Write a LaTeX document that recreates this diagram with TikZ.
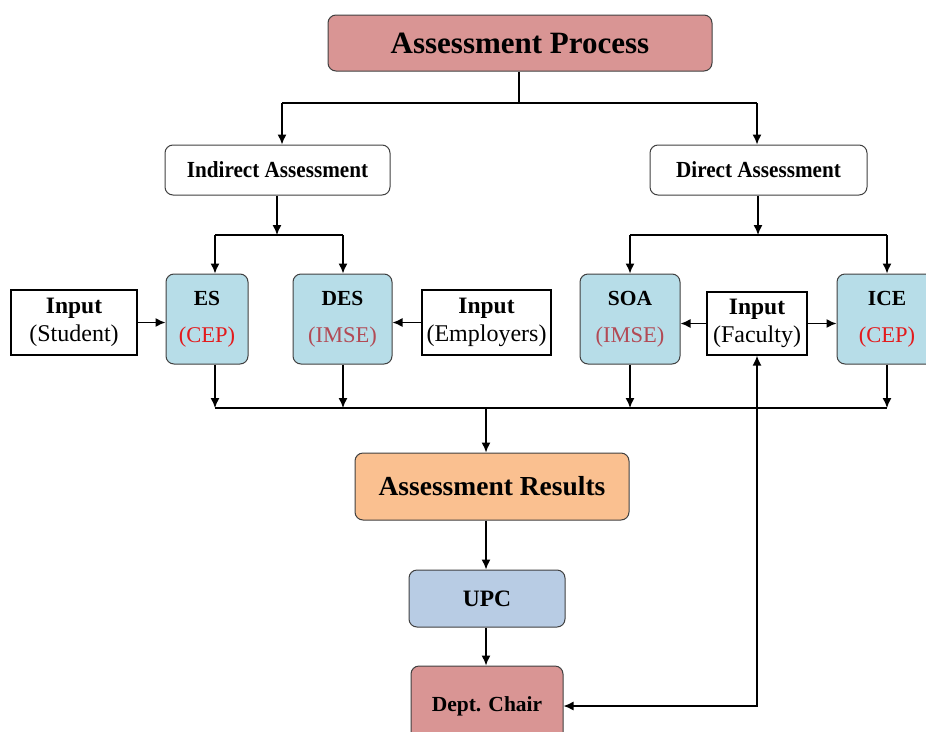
\documentclass[tikz,border=0pt]{standalone}
\usepackage{fontspec}
\setmainfont{Liberation Serif}
\usetikzlibrary{arrows.meta}
\definecolor{pinkred}{HTML}{D99594}
\definecolor{lblue}{HTML}{B7DDE8}
\definecolor{orangebox}{HTML}{FAC090}
\definecolor{upcblue}{HTML}{B8CCE4}
\definecolor{cepred}{HTML}{E31A1C}
\definecolor{imsered}{HTML}{B24A55}
\definecolor{edge}{HTML}{404040}
\newcommand{\blk}[3]{\fontsize{21.5}{26}\selectfont\bfseries #1\\[20pt]\fontsize{22.5}{27}\selectfont\mdseries\color{#2}#3}
\newcommand{\inp}[1]{\fontsize{23.5}{29}\selectfont\bfseries Input\\[5pt]\fontsize{24}{29}\selectfont\mdseries #1}
\tikzset{
  rbox/.style={draw=edge, line width=1pt, rounded corners=8pt, align=center, inner sep=0pt},
  sbox/.style={draw=black, line width=1.2pt, align=center, inner sep=0pt, fill=white},
  conn/.style={line width=1.4pt, draw=black},
  arr/.style={conn, -{Latex[length=10pt,width=9pt]}},
  darr/.style={conn, {Latex[length=10pt,width=9pt]}-{Latex[length=10pt,width=9pt]}}
}
\begin{document}
\begin{tikzpicture}[x=1pt,y=-1pt]
\useasboundingbox (0,0) rectangle (926,731);
% main nodes
\node[rbox, fill=pinkred, minimum width=384pt, minimum height=56pt, font=\fontsize{31}{36}\selectfont\bfseries] (ap) at (520,43) {Assessment Process};
\node[rbox, fill=white, minimum width=225pt, minimum height=50pt, font=\fontsize{23}{27}\selectfont\bfseries] (ind) at (277.5,170) {\scalebox{0.92}[1]{Indirect Assessment}};
\node[rbox, fill=white, minimum width=217pt, minimum height=50pt, font=\fontsize{23}{27}\selectfont\bfseries] (dir) at (758.5,170) {\scalebox{0.92}[1]{Direct Assessment}};
% blue boxes
\node[rbox, fill=lblue, minimum width=82pt, minimum height=90pt] (es) at (207,319) {\blk{ES}{cepred}{(CEP)}};
\node[rbox, fill=lblue, minimum width=99pt, minimum height=90pt] (des) at (342.5,319) {\blk{DES}{imsered}{(IMSE)}};
\node[rbox, fill=lblue, minimum width=100pt, minimum height=90pt] (soa) at (630,319) {\blk{SOA}{imsered}{(IMSE)}};
\node[rbox, fill=lblue, minimum width=100pt, minimum height=90pt] (ice) at (887,319) {\blk{ICE}{cepred}{(CEP)}};
% inputs
\node[sbox, minimum width=126pt, minimum height=65pt] (ist) at (74,322.5) {\inp{(Student)}};
\node[sbox, minimum width=129pt, minimum height=65pt] (iem) at (486.5,322.5) {\inp{(Employers)}};
\node[sbox, minimum width=100pt, minimum height=63pt] (ifa) at (757,323.5) {\inp{(Faculty)}};
% bottom
\node[rbox, fill=orangebox, minimum width=274pt, minimum height=67pt, font=\fontsize{27.5}{32}\selectfont\bfseries] (res) at (492,486.5) {Assessment Results};
\node[rbox, fill=upcblue, minimum width=156pt, minimum height=57pt, font=\fontsize{23.5}{28}\selectfont\bfseries] (upc) at (487,598.5) {UPC};
\node[rbox, fill=pinkred, minimum width=152pt, minimum height=80pt, font=\fontsize{21.5}{26}\selectfont\bfseries] (chair) at (487,706) {Dept. Chair};
% coordinates
\coordinate (t1) at (519,103);
\coordinate (tl) at (282,103);
\coordinate (tr) at (757,103);
\coordinate (jl) at (277,235);
\coordinate (jla) at (215,235);
\coordinate (jlb) at (343,235);
\coordinate (jr) at (758,235);
\coordinate (jra) at (630,235);
\coordinate (jrb) at (887,235);
\coordinate (ba) at (215,408);
\coordinate (bb) at (343,408);
\coordinate (bc) at (630,408);
\coordinate (bd) at (887,408);
\coordinate (bm) at (486,408);
\coordinate (fc) at (757,706);
% connectors
\draw[conn] (ap.south -| t1) -- (t1);
\draw[conn] (tl) -- (tr);
\draw[arr] (tl) -- (tl |- ind.north);
\draw[arr] (tr) -- (tr |- dir.north);
\draw[arr] (ind.south -| jl) -- (jl);
\draw[conn] (jla) -- (jlb);
\draw[arr] (jla) -- (jla |- es.north);
\draw[arr] (jlb) -- (jlb |- des.north);
\draw[arr] (dir.south -| jr) -- (jr);
\draw[conn] (jra) -- (jrb);
\draw[arr] (jra) -- (jra |- soa.north);
\draw[arr] (jrb) -- (jrb |- ice.north);
\draw[arr] (ist.east) -- (ist.east -| es.west);
\draw[arr] (iem.west) -- (iem.west -| des.east);
\draw[arr] (ifa.west) -- (ifa.west -| soa.east);
\draw[arr] (ifa.east) -- (ifa.east -| ice.west);
\draw[arr] (es.south -| ba) -- (ba);
\draw[arr] (des.south -| bb) -- (bb);
\draw[arr] (soa.south -| bc) -- (bc);
\draw[arr] (ice.south -| bd) -- (bd);
\draw[conn] (ba) -- (bd);
\draw[arr] (bm) -- (bm |- res.north);
\draw[arr] (res.south -| bm) -- (bm |- upc.north);
\draw[arr] (upc.south -| bm) -- (bm |- chair.north);
\draw[darr] (chair.east |- fc) -- (fc) -- (ifa.south -| fc);
\end{tikzpicture}
\end{document}
